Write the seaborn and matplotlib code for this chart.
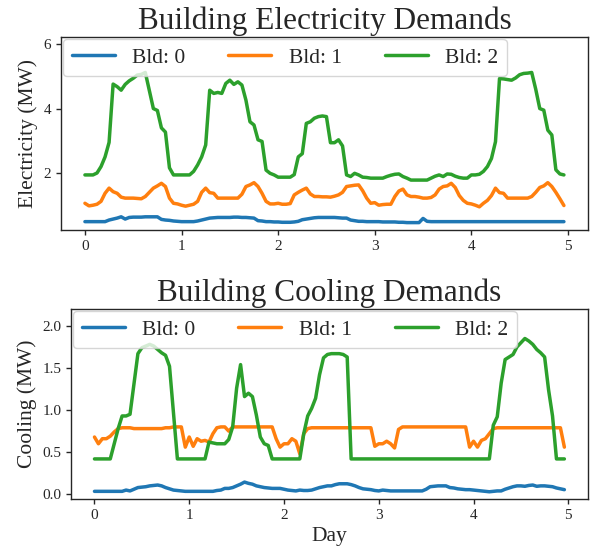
import matplotlib
matplotlib.use("Agg")
import matplotlib.pyplot as plt
import numpy as np
import pandas as pd
import seaborn as sns

# hourly demands (MW), 5 days x 24 h
elec_bld0 = [
    0.49, 0.49, 0.49, 0.49, 0.49, 0.49, 0.54, 0.57, 0.60, 0.64, 0.57, 0.62, 0.63, 0.63, 0.63, 0.64, 0.64, 0.64, 0.64, 0.56, 0.54, 0.53, 0.51, 0.50,
    0.49, 0.49, 0.49, 0.49, 0.51, 0.54, 0.57, 0.60, 0.61, 0.62, 0.62, 0.62, 0.62, 0.63, 0.63, 0.62, 0.62, 0.61, 0.60, 0.52, 0.51, 0.49, 0.49, 0.48,
    0.48, 0.47, 0.47, 0.47, 0.48, 0.50, 0.55, 0.57, 0.59, 0.61, 0.62, 0.62, 0.62, 0.62, 0.62, 0.61, 0.60, 0.60, 0.54, 0.52, 0.50, 0.50, 0.49, 0.49,
    0.49, 0.49, 0.48, 0.48, 0.48, 0.48, 0.47, 0.47, 0.46, 0.46, 0.46, 0.46, 0.59, 0.50, 0.49, 0.49, 0.49, 0.49, 0.49, 0.49, 0.49, 0.49, 0.49, 0.49,
    0.49, 0.49, 0.49, 0.49, 0.49, 0.49, 0.49, 0.49, 0.49, 0.49, 0.49, 0.49, 0.49, 0.49, 0.49, 0.49, 0.49, 0.49, 0.49, 0.49, 0.49, 0.49, 0.49, 0.49,
]
elec_bld1 = [
    1.06, 0.98, 1.00, 1.03, 1.12, 1.37, 1.53, 1.42, 1.37, 1.25, 1.22, 1.22, 1.22, 1.21, 1.20, 1.27, 1.40, 1.53, 1.60, 1.68, 1.58, 1.22, 1.06, 1.04,
    1.00, 0.97, 1.00, 1.03, 1.12, 1.40, 1.53, 1.39, 1.37, 1.22, 1.22, 1.22, 1.22, 1.22, 1.22, 1.34, 1.58, 1.63, 1.70, 1.58, 1.37, 1.12, 1.04, 1.04,
    1.06, 1.03, 1.03, 1.05, 1.32, 1.40, 1.47, 1.53, 1.35, 1.27, 1.27, 1.26, 1.26, 1.25, 1.28, 1.32, 1.40, 1.58, 1.60, 1.62, 1.63, 1.45, 1.22, 1.06,
    1.08, 1.00, 1.02, 1.03, 1.03, 1.27, 1.44, 1.50, 1.32, 1.27, 1.27, 1.25, 1.22, 1.22, 1.24, 1.32, 1.50, 1.58, 1.60, 1.68, 1.55, 1.30, 1.15, 1.06,
    1.04, 1.00, 0.95, 1.06, 1.15, 1.30, 1.53, 1.39, 1.37, 1.22, 1.22, 1.22, 1.22, 1.22, 1.22, 1.27, 1.40, 1.55, 1.60, 1.70, 1.58, 1.40, 1.20, 0.99,
]
elec_bld2 = [
    1.94, 1.94, 1.94, 2.00, 2.20, 2.50, 2.95, 4.76, 4.68, 4.57, 4.75, 4.86, 4.94, 5.04, 5.06, 5.12, 4.56, 4.00, 3.94, 3.40, 3.27, 2.16, 1.94, 1.94,
    1.94, 1.94, 1.94, 2.05, 2.25, 2.50, 2.87, 4.57, 4.47, 4.50, 4.47, 4.78, 4.88, 4.75, 4.83, 4.73, 4.26, 3.59, 3.49, 3.03, 2.98, 2.09, 1.99, 1.94,
    1.87, 1.87, 1.87, 1.87, 1.95, 2.50, 2.60, 3.54, 3.59, 3.70, 3.75, 3.77, 3.75, 2.94, 2.94, 3.03, 2.84, 1.94, 1.89, 1.99, 1.94, 1.87, 1.86, 1.84,
    1.84, 1.84, 1.84, 1.89, 1.93, 1.96, 1.97, 1.89, 1.84, 1.78, 1.78, 1.78, 1.78, 1.78, 1.84, 1.90, 1.94, 1.89, 1.97, 1.96, 1.90, 1.86, 1.84, 1.84,
    1.94, 1.94, 1.96, 2.05, 2.20, 2.45, 2.97, 4.93, 4.92, 4.90, 4.88, 4.95, 5.05, 5.09, 5.10, 5.12, 4.60, 4.00, 3.95, 3.33, 3.18, 2.10, 1.97, 1.94,
]

cool_bld0 = [
    0.035, 0.035, 0.035, 0.035, 0.035, 0.035, 0.035, 0.035, 0.05, 0.04, 0.06, 0.08, 0.085, 0.09, 0.10, 0.105, 0.11, 0.10, 0.08, 0.065, 0.05, 0.045, 0.04, 0.035,
    0.035, 0.035, 0.035, 0.035, 0.035, 0.035, 0.035, 0.045, 0.05, 0.07, 0.07, 0.08, 0.10, 0.12, 0.145, 0.13, 0.12, 0.10, 0.09, 0.08, 0.075, 0.07, 0.07, 0.07,
    0.06, 0.05, 0.045, 0.04, 0.05, 0.045, 0.045, 0.05, 0.065, 0.08, 0.09, 0.10, 0.10, 0.115, 0.125, 0.125, 0.125, 0.115, 0.10, 0.08, 0.065, 0.06, 0.055, 0.045,
    0.04, 0.05, 0.045, 0.04, 0.04, 0.04, 0.04, 0.04, 0.04, 0.04, 0.04, 0.04, 0.06, 0.09, 0.095, 0.10, 0.10, 0.10, 0.08, 0.075, 0.065, 0.06, 0.055, 0.055,
    0.05, 0.045, 0.04, 0.035, 0.03, 0.035, 0.04, 0.04, 0.06, 0.075, 0.09, 0.10, 0.10, 0.095, 0.105, 0.11, 0.095, 0.10, 0.10, 0.095, 0.09, 0.075, 0.065, 0.055,
]
cool_bld1 = [
    0.68, 0.60, 0.66, 0.66, 0.69, 0.74, 0.78, 0.79, 0.79, 0.79, 0.78, 0.78, 0.78, 0.78, 0.78, 0.78, 0.78, 0.78, 0.79, 0.79, 0.80, 0.80, 0.80, 0.56,
    0.68, 0.57, 0.66, 0.63, 0.64, 0.62, 0.72, 0.79, 0.80, 0.80, 0.75, 0.80, 0.80, 0.80, 0.80, 0.80, 0.80, 0.80, 0.80, 0.80, 0.80, 0.80, 0.66, 0.56,
    0.60, 0.60, 0.66, 0.63, 0.48, 0.72, 0.78, 0.79, 0.79, 0.79, 0.79, 0.79, 0.79, 0.79, 0.79, 0.79, 0.79, 0.79, 0.79, 0.79, 0.79, 0.79, 0.79, 0.57,
    0.60, 0.60, 0.63, 0.60, 0.55, 0.77, 0.80, 0.80, 0.80, 0.80, 0.80, 0.80, 0.80, 0.80, 0.80, 0.80, 0.80, 0.80, 0.80, 0.80, 0.80, 0.80, 0.80, 0.56,
    0.63, 0.56, 0.64, 0.66, 0.72, 0.78, 0.79, 0.79, 0.79, 0.79, 0.79, 0.79, 0.79, 0.79, 0.79, 0.79, 0.79, 0.79, 0.79, 0.79, 0.79, 0.79, 0.79, 0.56,
]
cool_bld2 = [
    0.42, 0.42, 0.42, 0.42, 0.42, 0.60, 0.78, 0.93, 0.93, 0.95, 1.31, 1.67, 1.74, 1.76, 1.78, 1.76, 1.72, 1.68, 1.65, 1.52, 0.97, 0.42, 0.42, 0.42,
    0.42, 0.42, 0.42, 0.42, 0.42, 0.62, 0.61, 0.60, 0.60, 0.60, 0.65, 0.80, 1.26, 1.54, 1.16, 1.20, 1.16, 0.94, 0.68, 0.60, 0.58, 0.42, 0.42, 0.42,
    0.42, 0.42, 0.42, 0.42, 0.42, 0.72, 0.93, 1.02, 1.14, 1.42, 1.62, 1.66, 1.67, 1.67, 1.67, 1.66, 1.63, 0.42, 0.42, 0.42, 0.42, 0.42, 0.42, 0.42,
    0.42, 0.42, 0.42, 0.42, 0.42, 0.42, 0.42, 0.42, 0.42, 0.42, 0.42, 0.42, 0.42, 0.42, 0.42, 0.42, 0.42, 0.42, 0.42, 0.42, 0.42, 0.42, 0.42, 0.42,
    0.42, 0.42, 0.42, 0.42, 0.42, 0.82, 0.92, 1.32, 1.60, 1.63, 1.66, 1.75, 1.80, 1.85, 1.82, 1.78, 1.72, 1.68, 1.63, 1.24, 0.93, 0.42, 0.42, 0.42,
]

bld_names = ["Bld: 0", "Bld: 1", "Bld: 2"]
colors = ["#1f77b4", "#ff7f0e", "#2ca02c"]
day = np.arange(len(elec_bld0)) / 24.0


def to_long(series, col):
    frames = []
    for name, vals in zip(bld_names, series):
        frames.append(pd.DataFrame({"Day": day, col: vals, "Bld": name}))
    return pd.concat(frames, ignore_index=True)


df_elec = to_long([elec_bld0, elec_bld1, elec_bld2], "Electricity")
df_cool = to_long([cool_bld0, cool_bld1, cool_bld2], "Cooling")

sns.set_style("ticks")
plt.rcParams["font.family"] = ["Liberation Serif", "DejaVu Serif"]

fig = plt.figure(figsize=(5.95, 5.52), dpi=100)
ax1 = fig.add_axes([0.1025, 0.5833, 0.8855, 0.3496])
ax2 = fig.add_axes([0.1193, 0.0960, 0.8687, 0.3442])

for ax, df, col, ylab, title, ylim in [
    (ax1, df_elec, "Electricity", "Electricity (MW)", "Building Electricity Demands", (0.23, 6.22)),
    (ax2, df_cool, "Cooling", "Cooling (MW)", "Building Cooling Demands", (-0.056, 2.2)),
]:
    sns.lineplot(data=df, x="Day", y=col, hue="Bld", palette=colors, linewidth=2.5, ax=ax)
    ax.set_ylim(*ylim)
    ax.set_xticks(range(6))
    ax.set_title(title, fontsize=22.5)
    ax.set_ylabel(ylab, fontsize=15.5)
    ax.tick_params(labelsize=11, length=3.5, width=1, color="0.15")
    for s in ax.spines.values():
        s.set_linewidth(1.0)
    h, l = ax.get_legend_handles_labels()
    ax.legend(h, l, ncol=3, loc="upper left", fontsize=15.5, borderaxespad=0.1,
              framealpha=0.8, handlelength=2.0)

ax1.set_xlabel("")
ax1.set_yticks([2, 4, 6])
ax2.set_xlabel("Day", fontsize=15.5)
ax2.set_yticks([0.0, 0.5, 1.0, 1.5, 2.0])

fig.savefig("out.png", dpi=100)
